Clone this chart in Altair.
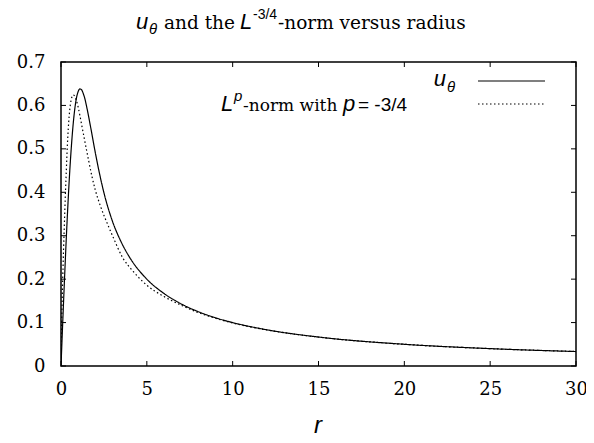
import altair as alt
import pandas as pd

# ---- data ----
r_u = [0, 0.1, 0.2, 0.3, 0.4, 0.5, 0.6, 0.7, 0.8, 0.9, 1.0, 1.1, 1.2, 1.3, 1.4, 1.5,
       1.75, 2.0, 2.25, 2.5, 3.0, 3.5, 4.0, 5, 6, 7, 8, 9, 10, 12, 15, 20, 25, 30]
u_theta = [0, 0.0995, 0.196, 0.287, 0.369, 0.442, 0.503, 0.553, 0.591, 0.617, 0.632,
           0.638, 0.636, 0.627, 0.614, 0.596, 0.545, 0.491, 0.442, 0.399, 0.333, 0.286,
           0.250, 0.200, 0.167, 0.143, 0.125, 0.111, 0.100, 0.0833, 0.0667, 0.050, 0.040, 0.0333]

r_lp = [0, 0.02, 0.05, 0.1, 0.15, 0.2, 0.25, 0.3, 0.35, 0.4, 0.45, 0.5, 0.55, 0.6, 0.65,
        0.72, 0.8, 0.9, 1.0, 1.1, 1.2, 1.4, 1.6, 1.8, 2.0, 2.3, 2.75, 3.0, 3.6, 4.2,
        5, 6, 7, 8, 9, 10, 12, 15, 20, 25, 30]
lp_norm = [0.0, 0.06, 0.12, 0.2, 0.27, 0.33, 0.39, 0.44, 0.49, 0.53, 0.562, 0.586, 0.603,
           0.614, 0.621, 0.624, 0.621, 0.611, 0.596, 0.577, 0.556, 0.515, 0.475, 0.437,
           0.405, 0.368, 0.323, 0.300, 0.249, 0.218, 0.186, 0.160, 0.140, 0.123, 0.110,
           0.099, 0.083, 0.0665, 0.050, 0.040, 0.0333]

series_names = ["u", "lp"]
x_ticks = [0, 5, 10, 15, 20, 25, 30]
y_ticks = [0, 0.1, 0.2, 0.3, 0.4, 0.5, 0.6, 0.7]

# ---- layout ----
W, H = 515, 304
OX, OY = 61, 62  # absolute page position of plot origin

df = pd.concat([
    pd.DataFrame({"r": r_u, "v": u_theta, "s": series_names[0]}),
    pd.DataFrame({"r": r_lp, "v": lp_norm, "s": series_names[1]}),
])

xs = alt.Scale(domain=[0, 30], nice=False)
ys = alt.Scale(domain=[0, 0.7], nice=False)

SERIF = "DejaVu Serif"
SANS = "Liberation Sans"

x_axis = alt.Axis(values=x_ticks, title=None, labelFont=SERIF, labelFontSize=18,
                  labelColor="black", labelPadding=14, ticks=False, domain=False,
                  grid=False, format="~g", labelFlush=False, labelOverlap=False)
y_axis = alt.Axis(values=y_ticks, title=None, labelFont=SERIF, labelFontSize=18,
                  labelColor="black", labelPadding=16, ticks=False, domain=False,
                  grid=False, format="~g", labelFlush=False, labelOverlap=False)

lines = alt.Chart(df).mark_line(interpolate="monotone", strokeWidth=1.2, color="black", clip=True).encode(
    x=alt.X("r:Q", scale=xs, axis=x_axis),
    y=alt.Y("v:Q", scale=ys, axis=y_axis),
    strokeDash=alt.StrokeDash("s:N", scale=alt.Scale(domain=series_names, range=[[1, 0], [1.5, 2.5]]),
                              legend=None),
    detail="s:N",
)

xt = pd.DataFrame({"t": x_ticks})
yt = pd.DataFrame({"t": y_ticks})
TL = 5
tick_layers = [
    alt.Chart(xt).mark_rule(color="black", strokeWidth=1).encode(
        x=alt.X("t:Q", scale=xs, axis=x_axis), y=alt.value(H), y2=alt.value(H - TL)),
    alt.Chart(xt).mark_rule(color="black", strokeWidth=1).encode(
        x=alt.X("t:Q", scale=xs, axis=x_axis), y=alt.value(0), y2=alt.value(TL)),
    alt.Chart(yt).mark_rule(color="black", strokeWidth=1).encode(
        y=alt.Y("t:Q", scale=ys, axis=y_axis), x=alt.value(0), x2=alt.value(TL)),
    alt.Chart(yt).mark_rule(color="black", strokeWidth=1).encode(
        y=alt.Y("t:Q", scale=ys, axis=y_axis), x=alt.value(W), x2=alt.value(W - TL)),
]

one = pd.DataFrame({"a": [0]})


def txt(s, x, y, font, size, style="normal", align="left"):
    return alt.Chart(one).mark_text(text=s, font=font, fontSize=size, fontStyle=style,
                                    align=align, baseline="alphabetic", color="black").encode(
        x=alt.value(x - OX), y=alt.value(y - OY))


texts = [
    # title
    txt("u", 136, 29, SANS, 22, "italic"),
    txt("θ", 149, 34, SANS, 15, "italic"),
    txt("and the", 164, 29, SERIF, 18.5),
    txt("L", 240, 29, SANS, 22, "italic"),
    txt("-3/4", 253, 19, SANS, 14),
    txt("-norm versus radius", 278, 29, SERIF, 18.5),
    # x axis title
    txt("r", 318, 433, SANS, 24, "italic", "center"),
    # legend
    txt("u", 446, 86, SANS, 22, "italic", "right"),
    txt("θ", 447, 92, SANS, 15, "italic"),
    txt("L", 221, 111, SANS, 22, "italic"),
    txt("p", 234, 101, SANS, 15, "italic"),
    txt("-norm with", 243, 111, SERIF, 17),
    txt("p", 343, 111, SANS, 22, "italic"),
    txt("= -3/4", 358, 111, SANS, 19),
]

legend_lines = [
    alt.Chart(one).mark_rule(color="black", strokeWidth=1.2).encode(
        x=alt.value(478 - OX), x2=alt.value(545 - OX), y=alt.value(81 - OY)),
    alt.Chart(one).mark_rule(color="black", strokeWidth=1.2, strokeDash=[1.5, 2.5]).encode(
        x=alt.value(478 - OX), x2=alt.value(545 - OX), y=alt.value(104 - OY)),
]

chart = alt.layer(lines, *tick_layers, *legend_lines, *texts).properties(
    width=W, height=H,
    autosize="none",
    padding={"left": OX - 8, "top": OY - 8, "right": 10,
             "bottom": 443 - 8 - (OY - 8) - H},
).configure(background="white").configure_view(stroke="black", strokeWidth=1.5)

chart.save("out.html", embed_options={"renderer": "svg", "actions": False})
